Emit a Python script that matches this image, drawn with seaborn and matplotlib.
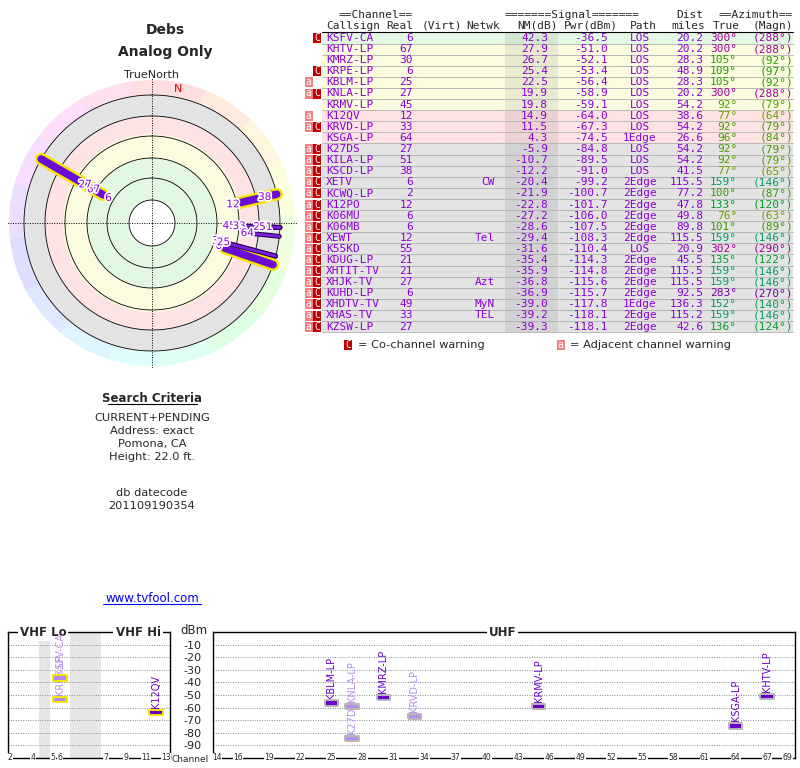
import colorsys
import numpy as np
import pandas as pd
import matplotlib
matplotlib.use("Agg")
import matplotlib.pyplot as plt
import matplotlib.patheffects as pe
from matplotlib.patches import Rectangle
import seaborn as sns

# ── data ─────────────────────────────────────────────────────────────────────
callsigns = ["KSFV-CA", "KHTV-LP", "KMRZ-LP", "KRPE-LP", "KBLM-LP", "KNLA-LP", "KRMV-LP",
             "K12QV", "KRVD-LP", "KSGA-LP", "K27DS", "KILA-LP", "KSCD-LP", "XETV", "KCWQ-LP",
             "K12PO", "K06MU", "K06MB", "XEWT", "K55KD", "KDUG-LP", "XHTIT-TV", "XHJK-TV",
             "KUHD-LP", "XHDTV-TV", "XHAS-TV", "KZSW-LP"]
channels = [6, 67, 30, 6, 25, 27, 45, 12, 33, 64, 27, 51, 38, 6, 2,
            12, 6, 6, 12, 55, 21, 21, 27, 6, 49, 33, 27]
networks = ["", "", "", "", "", "", "", "", "", "", "", "", "", "CW", "",
            "", "", "", "Tel", "", "", "", "Azt", "", "MyN", "TEL", ""]
nm_db = [42.3, 27.9, 26.7, 25.4, 22.5, 19.9, 19.8, 14.9, 11.5, 4.3, -5.9, -10.7, -12.2, -20.4, -21.9,
         -22.8, -27.2, -28.6, -29.4, -31.6, -35.4, -35.9, -36.8, -36.9, -39.0, -39.2, -39.3]
pwr_dbm = [-36.5, -51.0, -52.1, -53.4, -56.4, -58.9, -59.1, -64.0, -67.3, -74.5, -84.8, -89.5, -91.0,
           -99.2, -100.7, -101.7, -106.0, -107.5, -108.3, -110.4, -114.3, -114.8, -115.6, -115.7,
           -117.8, -118.1, -118.1]
paths = ["LOS"] * 9 + ["1Edge", "LOS", "LOS", "LOS"] + ["2Edge"] * 6 + ["LOS"] + ["2Edge"] * 4 + \
        ["1Edge", "2Edge", "2Edge"]
dist_mi = [20.2, 20.2, 28.3, 48.9, 28.3, 20.2, 54.2, 38.6, 54.2, 26.6, 54.2, 54.2, 41.5, 115.5, 77.2,
           47.8, 49.8, 89.8, 115.5, 20.9, 45.5, 115.5, 115.5, 92.5, 136.3, 115.2, 42.6]
az_true = [300, 300, 105, 109, 105, 300, 92, 77, 92, 96, 92, 92, 77, 159, 100,
           133, 76, 101, 159, 302, 135, 159, 159, 283, 152, 159, 136]
az_magn = [288, 288, 92, 97, 92, 288, 79, 64, 79, 84, 79, 79, 65, 146, 87,
           120, 63, 89, 146, 290, 122, 146, 146, 270, 140, 146, 124]
warnings = ["C", "", "", "C", "a", "aC", "", "a", "aC", ""] + ["aC"] * 17

nm_bands = [35, 15, 0]          # green / yellow / pink / gray thresholds
vhf_ticks = [2, 4, 5, 6, 7, 9, 11, 13]
uhf_ticks = [14, 16, 19, 22, 25, 28, 31, 34, 37, 40, 43, 46, 49, 52, 55, 58, 61, 64, 67, 69]
dbm_ticks = [-10, -20, -30, -40, -50, -60, -70, -80, -90]

df = pd.DataFrame({"callsign": callsigns, "ch": channels, "net": networks, "nm": nm_db,
                   "pwr": pwr_dbm, "path": paths, "dist": dist_mi, "az": az_true,
                   "azm": az_magn, "warn": warnings})

PURPLE = "#8a00d4"
MONO = "DejaVu Sans Mono"
FS = 8.0

sns.set_theme(style="white")
plt.rcParams["font.family"] = ["DejaVu Sans"]

fig = plt.figure(figsize=(8, 7.68), dpi=100)
bg = fig.add_axes([0, 0, 1, 1])
bg.set_xlim(0, 800)
bg.set_ylim(768, 0)
bg.axis("off")


def az_color(a, v=0.62):
    return colorsys.hsv_to_rgb((a % 360) / 360.0, 1.0, v)


def nm_radius(nm):
    return 107 - 1.2 * nm


# ── left header / search criteria ───────────────────────────────────────────
bg.text(165, 30, "Debs", ha="center", va="center", fontsize=10, fontweight="bold")
bg.text(165, 52, "Analog Only", ha="center", va="center", fontsize=10, fontweight="bold")
bg.text(152, 75, "TrueNorth", ha="center", va="center", fontsize=8)
bg.text(152, 398, "Search Criteria", ha="center", va="center", fontsize=8.5, fontweight="bold")
bg.plot([108, 197], [404, 404], color="black", lw=0.8)
for y, s in zip([418, 431, 444, 457, 493, 506],
                ["CURRENT+PENDING", "Address: exact", "Pomona, CA", "Height: 22.0 ft.",
                 "db datecode", "201109190354"]):
    bg.text(152, y, s, ha="center", va="center", fontsize=8.2)
bg.text(152, 598, "www.tvfool.com", ha="center", va="center", fontsize=8.5, color="#0000ee")
bg.plot([103, 201], [604, 604], color="#0000ee", lw=0.8)

# ── polar plot ───────────────────────────────────────────────────────────────
R_OUT = 145
pax = fig.add_axes([(152 - R_OUT) / 800, (768 - 223 - R_OUT) / 768, 2 * R_OUT / 800, 2 * R_OUT / 768],
                   projection="polar")
pax.set_theta_zero_location("N")
pax.set_theta_direction(-1)
pax.set_ylim(0, R_OUT)
pax.axis("off")
pax.patch.set_alpha(0)

for a in range(0, 360, 22):
    pax.bar(np.radians(a + 11), 15, width=np.radians(22.5), bottom=128,
            color=colorsys.hsv_to_rgb(a / 360, 0.13, 1.0), edgecolor="none")
r_bands = [23] + [nm_radius(t) for t in nm_bands] + [128]
band_cols = ["#e3f8e3", "#fbfbdf", "#fde3e3", "#e3e3e3"]
for r0, r1, c in zip(r_bands[:-1], r_bands[1:], band_cols):
    pax.bar(0, r1 - r0, width=2 * np.pi, bottom=r0, color=c, edgecolor="none")
th = np.linspace(0, 2 * np.pi, 361)
for rc in [23, 45, 65, 87, 107, 128]:
    pax.plot(th, np.full_like(th, rc), color="black", lw=0.6)
for a in [0, 90, 180, 270]:
    pax.plot([np.radians(a)] * 2, [0, R_OUT], color="black", lw=0.7, ls=(0, (1, 1.5)))
pax.text(np.radians(11), 136, "N", color="#dd0000", fontsize=8, ha="center", va="center")

shown = df[df["nm"] > -15]
for _, row in shown.iloc[::-1].iterrows():
    t = np.radians(row["az"])
    r0 = nm_radius(row["nm"])
    if row["ch"] < 14:
        pax.plot([t, t], [r0, 128], color="#f5e600", lw=9, solid_capstyle="round")
        pax.plot([t, t], [r0, 128], color="#6a0dd4", lw=5.5, solid_capstyle="round")
    else:
        pax.plot([t, t], [r0, 128], color="#2a0055", lw=3.5)
        pax.plot([t, t], [r0, 128], color="#7a20e0", lw=2)
for _, row in shown.iterrows():
    t = np.radians(row["az"])
    pax.text(t, nm_radius(row["nm"]) - 6, str(row["ch"]), color=PURPLE, fontsize=7.5,
             ha="center", va="center",
             path_effects=[pe.withStroke(linewidth=2.5, foreground="white")])

# ── table ────────────────────────────────────────────────────────────────────
Y0, DY = 38, 11.1
X0, X1 = 322, 793
hdr = dict(fontsize=FS, family=MONO, va="center")
bg.text(413, 15, "==Channel==", ha="right", **hdr)
bg.text(640, 15, "=======Signal=======", ha="right", **hdr)
bg.text(703, 15, "Dist", ha="right", **hdr)
bg.text(793, 15, "==Azimuth==", ha="right", **hdr)
for x, s, ha in [(326, "Callsign", "left"), (413, "Real", "right"), (462, "(Virt)", "right"),
                 (500, "Netwk", "right"), (558, "NM(dB)", "right"), (618, "Pwr(dBm)", "right"),
                 (657, "Path", "right"), (705, "miles", "right"), (740, "True", "right"),
                 (793, "(Magn)", "right")]:
    bg.text(x, 26, s, ha=ha, **hdr)
bg.plot([X0, X1], [32, 32], color="black", lw=0.8)

for i, row in df.iterrows():
    yc = Y0 + i * DY
    nm = row["nm"]
    col = band_cols[0] if nm > nm_bands[0] else band_cols[1] if nm > nm_bands[1] else \
        band_cols[2] if nm > nm_bands[2] else band_cols[3]
    bg.add_patch(Rectangle((X0, yc - DY / 2), X1 - X0, DY, color=col, lw=0))
    bg.plot([X0, X1], [yc + DY / 2] * 2, color="#b0b0b0", lw=0.6)
    if "a" in row["warn"]:
        bg.add_patch(Rectangle((305, yc - 5), 7.5, 10, color="#f08080", lw=0))
        bg.text(308.7, yc, "a", color="white", ha="center", va="center", fontsize=7, family=MONO)
    if "C" in row["warn"]:
        bg.add_patch(Rectangle((313, yc - 5), 8, 10, color="#c00000", lw=0))
        bg.text(317, yc, "C", color="white", ha="center", va="center", fontsize=7, family=MONO)
    cell = dict(fontsize=FS, family=MONO, va="center", color=PURPLE)
    bg.text(326, yc, row["callsign"], ha="left", **cell)
    bg.text(413, yc, str(row["ch"]), ha="right", **cell)
    bg.text(495, yc, row["net"], ha="right", **cell)
    bg.text(548, yc, f"{nm:.1f}", ha="right", **cell)
    bg.text(608, yc, f"{row['pwr']:.1f}", ha="right", **cell)
    bg.text(640, yc, row["path"], ha="center", **cell)
    bg.text(703, yc, f"{row['dist']:.1f}", ha="right", **cell)
    ac = dict(fontsize=FS, family=MONO, va="center", color=az_color(row["az"]))
    bg.text(737, yc, f"{row['az']}°", ha="right", **ac)
    bg.text(793, yc, f"({row['azm']}°)", ha="right", **ac)
bg.add_patch(Rectangle((505, 32), 53, Y0 + len(df) * DY - DY / 2 - 32, color="black", alpha=0.07, lw=0))

bg.add_patch(Rectangle((344, 340), 8, 10, color="#c00000", lw=0))
bg.text(348, 345, "C", color="white", ha="center", va="center", fontsize=7, family=MONO)
bg.text(358, 345, "= Co-channel warning", ha="left", va="center", fontsize=8.2)
bg.add_patch(Rectangle((557, 340), 7.5, 10, color="#f08080", lw=0))
bg.text(560.7, 345, "a", color="white", ha="center", va="center", fontsize=7, family=MONO)
bg.text(570, 345, "= Adjacent channel warning", ha="left", va="center", fontsize=8.2)

# ── spectrum panels ──────────────────────────────────────────────────────────
vhf_pos = [2, 25, 45, 52, 98, 118, 138, 158]   # layout of the broken VHF scale
top, bot = 632, 758
vax = fig.add_axes([8 / 800, (768 - bot) / 768, 162 / 800, (bot - top) / 768])
uax = fig.add_axes([213 / 800, (768 - bot) / 768, 582 / 800, (bot - top) / 768])
vax.set_xlim(0, 162)
uax.set_xlim(13.6, 69.7)
for ax in (vax, uax):
    ax.set_ylim(-100, 0)
    for s in ax.spines.values():
        s.set_color("black")
        s.set_linewidth(1)
    for d in dbm_ticks:
        ax.axhline(d, color="#888888", lw=0.7, ls=(0, (1, 1.5)))
    ax.set_xticks([])
vax.set_yticks([])
uax.set_yticks(dbm_ticks)
uax.set_yticklabels([str(d) for d in dbm_ticks], fontsize=8)
uax.tick_params(axis="y", length=0, pad=8)
vax.axvspan(31, 41.5, color="#e6e6e6", lw=0)
vax.axvspan(62, 92.5, color="#e6e6e6", lw=0)
for c, p in zip(vhf_ticks, vhf_pos):
    vax.text(p, -100, str(c), fontsize=5.5, ha="center", va="center",
             bbox=dict(facecolor="white", edgecolor="none", pad=0.3), clip_on=False)
for c in uhf_ticks:
    uax.text(c, -100, str(c), fontsize=5.5, ha="center", va="center",
             bbox=dict(facecolor="white", edgecolor="none", pad=0.3), clip_on=False)
ttl = dict(fontsize=8.5, fontweight="bold", va="center", ha="center", clip_on=False,
           bbox=dict(facecolor="white", edgecolor="none", pad=1.5))
vax.text(35, 0, "VHF Lo", **ttl)
vax.text(130, 0, "VHF Hi", **ttl)
uax.text(41.5, 0, "UHF", **ttl)
bg.text(194, 631, "dBm", ha="center", va="center", fontsize=8.5)
bg.text(190, 759, "Channel", ha="center", va="center", fontsize=6.5)

spec = df[df["nm"] > -10].copy()
spec["co"] = spec["warn"].str.contains("C").map({True: "co", False: "ok"})
spec["vhf"] = spec["ch"] < 14
spec["x"] = np.where(spec["vhf"], np.interp(spec["ch"], vhf_ticks, vhf_pos), spec["ch"])
bar_marker = [(-1, -0.4), (1, -0.4), (1, 0.4), (-1, 0.4), (-1, -0.4)]
pal = {"co": "#b48ee8", "ok": "#6a00c8"}
for ax, sub in ((vax, spec[spec["vhf"]]), (uax, spec[~spec["vhf"]])):
    edge = "#f5e600" if ax is vax else "#b8b8b8"
    sns.scatterplot(data=sub, x="x", y="pwr", hue="co", palette=pal, marker=bar_marker, s=90,
                    edgecolor=edge, linewidth=1.4, legend=False, ax=ax, zorder=5)
    for _, row in sub.iterrows():
        ax.text(row["x"], row["pwr"] + 3.5, row["callsign"],
                rotation=90, ha="center", va="bottom", fontsize=7, color=pal[row["co"]])
    ax.set_xlabel("")
    ax.set_ylabel("")

fig.savefig("out.png", dpi=100)
